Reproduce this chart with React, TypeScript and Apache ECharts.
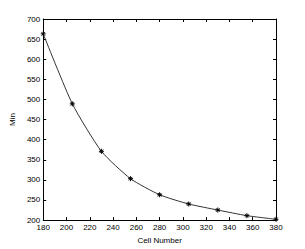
import React, { useEffect, useRef } from "react";
import * as echarts from "echarts";

const cellNumbers = [180, 205, 230, 255, 280, 305, 330, 355, 380];
const minValues = [663, 489, 371, 303, 263, 240, 225, 211, 202];
const xLabelName = "Cell Number";
const yLabelName = "Min";

const starPath =
  "path://M5,0 L5,10 M0,5 L10,5 M1.5,1.5 L8.5,8.5 M8.5,1.5 L1.5,8.5";

export default function App() {
  const ref = useRef<HTMLDivElement>(null);
  useEffect(() => {
    if (!ref.current) return;
    const chart = echarts.init(ref.current, null, { renderer: "svg" });
    const font = "Liberation Sans";
    const axisCommon = {
      axisLine: { show: true, onZero: false, lineStyle: { color: "#000", width: 1 } },
      axisTick: { show: true, inside: true, length: 3, lineStyle: { color: "#000" } },
      splitLine: { show: false },
    };
    chart.setOption({
      animation: false,
      backgroundColor: "#fff",
      grid: { left: 39, top: 19, right: 29, bottom: 28, containLabel: false },
      xAxis: [
        {
          type: "value",
          min: 180,
          max: 380,
          interval: 20,
          name: xLabelName,
          nameLocation: "middle",
          nameGap: 14,
          nameTextStyle: { fontFamily: font, fontSize: 8, color: "#000" },
          axisLabel: { fontFamily: font, fontSize: 8, color: "#000", margin: 3 },
          ...axisCommon,
        },
        {
          type: "value",
          position: "top",
          min: 180,
          max: 380,
          interval: 20,
          axisLabel: { show: false },
          ...axisCommon,
        },
      ],
      yAxis: [
        {
          type: "value",
          min: 200,
          max: 700,
          interval: 50,
          name: yLabelName,
          nameLocation: "middle",
          nameGap: 19,
          nameRotate: 90,
          nameTextStyle: { fontFamily: font, fontSize: 8, color: "#000" },
          axisLabel: { fontFamily: font, fontSize: 8, color: "#000", margin: 3 },
          ...axisCommon,
        },
        {
          type: "value",
          position: "right",
          min: 200,
          max: 700,
          interval: 50,
          axisLabel: { show: false },
          ...axisCommon,
        },
      ],
      series: [
        {
          type: "line",
          data: cellNumbers.map((c, i) => [c, minValues[i]]),
          smooth: 0.2,
          symbol: starPath,
          symbolSize: 5,
          itemStyle: { color: "#000", borderColor: "#000", borderWidth: 1 },
          lineStyle: { color: "#333", width: 1 },
        },
      ],
    });
    return () => chart.dispose();
  }, []);
  return (
    <div
      ref={ref}
      style={{ position: "fixed", left: 0, top: 0, width: 305, height: 249 }}
    />
  );
}
